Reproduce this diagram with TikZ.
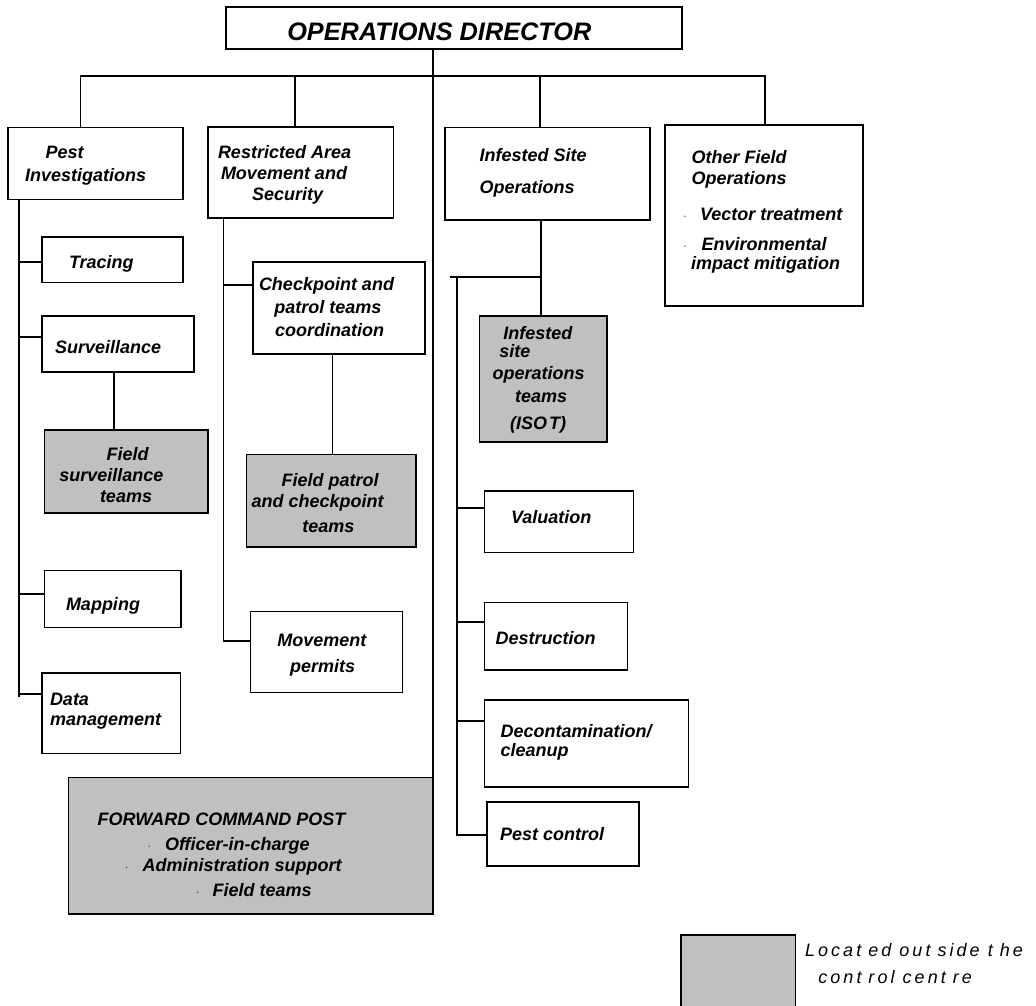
\documentclass[tikz,border=0pt]{standalone}
\usepackage{fontspec}
\setmainfont{Liberation Sans}
\newfontfamily\lgfont[LetterSpace=17]{Liberation Sans}
\definecolor{boxgray}{HTML}{C0C0C0}
\newcommand\mybox[6]{\node[#2, minimum width={(#5-#3)*1pt}, minimum height={(#6-#4)*1pt}] (#1) at (#3,#4) {};}
\newcommand\mytx[5][txt]{\node[#1] (#2) at (#3,#4) {#5};}
\newcommand\tgap{\kern7pt}
\begin{document}
\begin{tikzpicture}[x=1pt,y=-1pt,
  box/.style={draw=black, line width=1.6pt, fill=white, inner sep=0pt, outer sep=0pt, anchor=north west},
  gbox/.style={box, fill=boxgray},
  conn/.style={line width=1.6pt},
  txt/.style={inner sep=0pt, outer sep=0pt, anchor=base west, font=\fontsize{18}{21}\selectfont\bfseries\itshape},
  dirtxt/.style={txt, font=\fontsize{25.3}{29}\selectfont\bfseries\itshape},
  lgtxt/.style={txt, font=\fontsize{18}{21}\selectfont\lgfont\itshape},
  dotc/.style={inner sep=0pt, outer sep=0pt, anchor=base west, font=\fontsize{10}{10}\selectfont}]
\useasboundingbox (0,0) rectangle (1036,1006);
% boxes
\mybox{dir}{box}{225.7}{7.3}{682}{49}
\mybox{pest}{box}{8}{127.7}{182.7}{199.3}
\mybox{restr}{box}{207.7}{127}{393.3}{217.7}
\mybox{inf}{box}{445}{127.7}{650}{220}
\mybox{other}{box}{665}{125}{863}{305.7}
\mybox{trac}{box}{42}{237}{183}{282.3}
\mybox{surv}{box}{42}{316}{193.7}{371.7}
\mybox{fsurv}{gbox}{44.3}{429.7}{207.7}{512.7}
\mybox{mapp}{box}{44.3}{570.3}{180.7}{627.3}
\mybox{data}{box}{42}{672.7}{180.3}{753.3}
\mybox{chk}{box}{252.7}{261.7}{425}{354}
\mybox{fpat}{gbox}{246.3}{454.5}{416}{546.7}
\mybox{mov}{box}{250.3}{611.3}{402.3}{692.3}
\mybox{isot}{gbox}{479.3}{316}{606.7}{441.7}
\mybox{val}{box}{484.3}{490.7}{633.3}{552.3}
\mybox{des}{box}{484.3}{602.3}{627.3}{670}
\mybox{dec}{box}{484.3}{700}{688.3}{786.7}
\mybox{pc}{box}{486.7}{802}{639}{866}
\mybox{fcp}{gbox}{68.3}{777.3}{433}{914}
\mybox{leg}{gbox}{680.7}{935}{795.3}{1012}
% connectors from the director
\coordinate (barL) at (80.3,76);
\coordinate (barR) at (765,76);
\draw[conn] (barL |- pest.north) -- (barL) -- (barR) -- (barR |- other.north);
\coordinate (dRe) at (294.7,76);
\draw[conn] (dRe) -- (dRe |- restr.north);
\coordinate (dIn) at (540,76);
\draw[conn] (dIn) -- (dIn |- inf.north);
\draw[conn] (dir.south -| fcp.north east) -- (fcp.north east);
% pest investigations
\coordinate (pT) at (19,0);
\coordinate (pB) at (19,697);
\draw[conn] (pT |- pest.south) -- (pB);
\foreach \n/\yy in {trac/262, surv/336.7, mapp/594, data/694}{
  \coordinate (b) at (19,\yy);
  \draw[conn] (b) -- (b -| \n.west);
}
\coordinate (sx) at (113.7,0);
\draw[conn] (sx |- surv.south) -- (sx |- fsurv.north);
% restricted area
\coordinate (rT) at (223.3,640.7);
\draw[conn] (rT |- restr.south) -- (rT) -- (rT -| mov.west);
\coordinate (rC) at (223.3,285);
\draw[conn] (rC) -- (rC -| chk.west);
\coordinate (cx) at (332.3,0);
\draw[conn] (cx |- chk.south) -- (cx |- fpat.north);
% infested site
\coordinate (ix) at (541,0);
\draw[conn] (ix |- inf.south) -- (ix |- isot.north);
\coordinate (stL) at (450,276.7);
\coordinate (stR) at (541,276.7);
\draw[conn] (stL) -- (stR);
\coordinate (sT) at (456.7,276.7);
\coordinate (sB) at (456.7,835);
\draw[conn] (sT) -- (sB) -- (sB -| pc.west);
\foreach \n/\yy in {val/507.7, des/621.7, dec/720.7}{
  \coordinate (b) at (456.7,\yy);
  \draw[conn] (b) -- (b -| \n.west);
}
% texts
\mytx[dirtxt]{tdir}{287.3}{40.7}{OPERATIONS DIRECTOR}
\mytx{tp1}{45.7}{159}{Pest}
\mytx{tp2}{25}{181.5}{Investigations}
\mytx{tr1}{218}{158}{Restricted Area}
\mytx{tr2}{221}{179}{Movement and}
\mytx{tr3}{252}{200}{Security}
\mytx{ti1}{479.5}{161}{Infested Site}
\mytx{ti2}{479.5}{193.5}{Operations}
\mytx{to1}{691.7}{163.3}{Other Field}
\mytx{to2}{691.7}{184.5}{Operations}
\mytx[dotc]{do1}{683.3}{219}{·}
\mytx{to3}{700}{220}{Vector treatment}
\mytx[dotc]{do2}{683.3}{249}{·}
\mytx{to4}{701.7}{250}{Environmental}
\mytx{to5}{691}{269}{impact mitigation}
\mytx{tt}{69}{268}{Tracing}
\mytx{ts}{55}{353}{Surveillance}
\mytx{tf1}{106.7}{460}{Field}
\mytx{tf2}{59.3}{481}{surveillance}
\mytx{tf3}{100}{502}{teams}
\mytx{tm}{66}{610}{Mapping}
\mytx{td1}{50}{705}{Data}
\mytx{td2}{50}{725}{management}
\mytx{tc1}{259}{290}{Checkpoint and}
\mytx{tc2}{274.3}{313}{patrol teams}
\mytx{tc3}{275}{336.5}{coordination}
\mytx{tq1}{281.7}{486.7}{Field patrol}
\mytx{tq2}{251.7}{507.7}{and checkpoint}
\mytx{tq3}{302.3}{532}{teams}
\mytx{tv1}{277.3}{646}{Movement}
\mytx{tv2}{290}{672}{permits}
\mytx{tx1}{503.3}{339.3}{Infested}
\mytx{tx2}{499.3}{357.3}{site}
\mytx{tx3}{492.7}{379}{operations}
\mytx{tx4}{515}{402.3}{teams}
\mytx{tx5}{510}{429.3}{(ISO\kern2pt T)}
\mytx{tva}{511}{523.3}{Valuation}
\mytx{tde}{495.7}{644}{Destruction}
\mytx{tdc1}{500.7}{737.3}{Decontamination/}
\mytx{tdc2}{500.7}{756}{cleanup}
\mytx{tpc}{500}{840}{Pest control}
\mytx{tw1}{97.7}{825}{FORWARD COMMAND POST}
\mytx[dotc]{dw1}{147.7}{849}{·}
\mytx{tw2}{165}{850}{Officer-in-charge}
\mytx[dotc]{dw2}{125}{870}{·}
\mytx{tw3}{142.7}{871}{Administration support}
\mytx[dotc]{dw3}{196}{895}{·}
\mytx{tw4}{212.7}{896}{Field teams}
\mytx[lgtxt]{tl1}{805}{956.7}{Locat\tgap ed out\tgap side t\tgap he}
\mytx[lgtxt]{tl2}{818.3}{983.3}{cont\tgap rol cent\tgap re}
\end{tikzpicture}
\end{document}
